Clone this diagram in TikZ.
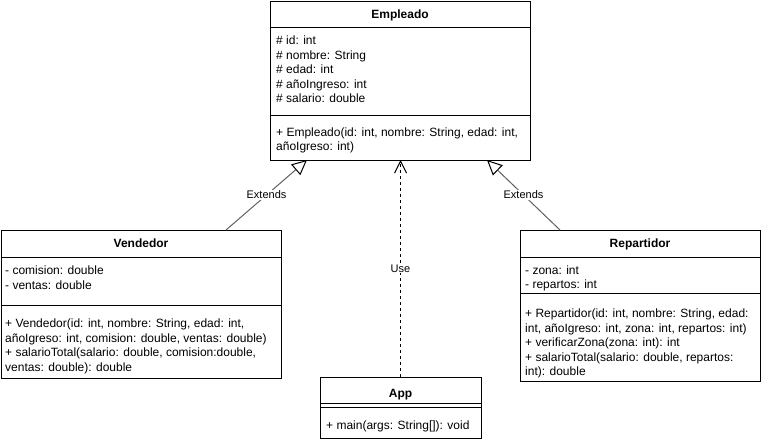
\documentclass[tikz,border=0pt]{standalone}
\usepackage{fontspec}
\setmainfont{Liberation Sans}
\usetikzlibrary{arrows.meta}
\begin{document}
\begin{tikzpicture}[x=1pt,y=-1pt,
  box/.style={draw=black, line width=1pt, fill=white, inner sep=0pt, outer sep=0pt},
  ttl/.style={font=\fontsize{12}{14}\selectfont\bfseries, inner sep=0pt, anchor=base},
  txt/.style={font=\fontsize{12}{14}\selectfont, inner sep=0pt, anchor=base west},
  sep/.style={line width=1pt},
  ext/.style={draw=black!62, line width=1pt, -{Triangle[open, length=15pt, width=14pt, color=black, fill=white, line width=1pt]}},
  usearrow/.style={draw=black, line width=1pt, dash pattern=on 3pt off 3pt, -{Straight Barb[length=12pt, width=12pt, line width=1pt]}},
  lbl/.style={font=\fontsize{11}{13}\selectfont, fill=white, inner sep=1pt}
]
\useasboundingbox (0,0) rectangle (762,442);

% ---------- Empleado ----------
\node[box, minimum width=260pt, minimum height=159pt] (emp) at (400,80.5) {};
\draw[sep] ([yshift=-26pt]emp.north west) -- ([yshift=-26pt]emp.north east);
\draw[sep] ([yshift=-114pt]emp.north west) -- ([yshift=-114pt]emp.north east);
\node[ttl] (empT) at (400,18.5) {Empleado};
\node[txt] (empA1) at (276,44.5) {\# id: int};
\node[txt] (empA2) at (276,59) {\# nombre: String};
\node[txt] (empA3) at (276,73.5) {\# edad: int};
\node[txt] (empA4) at (276,88) {\# añoIngreso: int};
\node[txt] (empA5) at (276,102.5) {\# salario: double};
\node[txt] (empM1) at (276,136) {+ Empleado(id: int, nombre: String, edad: int,};
\node[txt] (empM2) at (276,150.5) {añoIgreso: int)};

% ---------- Vendedor ----------
\node[box, minimum width=280pt, minimum height=148pt] (vend) at (141,304) {};
\draw[sep] ([yshift=-27pt]vend.north west) -- ([yshift=-27pt]vend.north east);
\draw[sep] ([yshift=-75pt]vend.north west) -- ([yshift=-75pt]vend.north east);
\node[ttl] (vendT) at (141,247.5) {Vendedor};
\node[txt] (vendA1) at (5,274.5) {- comision: double};
\node[txt] (vendA2) at (5,289) {- ventas: double};
\node[txt] (vendM1) at (5,327.5) {+ Vendedor(id: int, nombre: String, edad: int,};
\node[txt] (vendM2) at (5,342) {añoIgreso: int, comision: double, ventas: double)};
\node[txt] (vendM3) at (5,356.5) {+ salarioTotal(salario: double, comision:double,};
\node[txt] (vendM4) at (5,371) {ventas: double): double};

% ---------- Repartidor ----------
\node[box, minimum width=240pt, minimum height=151pt] (rep) at (640,305.5) {};
\draw[sep] ([yshift=-27pt]rep.north west) -- ([yshift=-27pt]rep.north east);
\draw[sep] ([yshift=-63pt]rep.north west) -- ([yshift=-63pt]rep.north east);
\node[ttl] (repT) at (640,247.5) {Repartidor};
\node[txt] (repA1) at (525,274.5) {- zona: int};
\node[txt] (repA2) at (525,288.5) {- repartos: int};
\node[txt] (repM1) at (525,317.5) {+ Repartidor(id: int, nombre: String, edad:};
\node[txt] (repM2) at (525,332) {int, añoIgreso: int, zona: int, repartos: int)};
\node[txt] (repM3) at (525,346.5) {+ verificarZona(zona: int): int};
\node[txt] (repM4) at (525,361) {+ salarioTotal(salario: double, repartos:};
\node[txt] (repM5) at (525,375) {int): double};

% ---------- App ----------
\node[box, minimum width=161pt, minimum height=61pt] (app) at (400.5,407.5) {};
\draw[sep] ([yshift=-26pt]app.north west) -- ([yshift=-26pt]app.north east);
\draw[sep] ([yshift=-30pt]app.north west) -- ([yshift=-30pt]app.north east);
\node[ttl] (appT) at (400.5,397.5) {App};
\node[txt] (appM1) at (326,429.5) {+ main(args: String[]): void};

% ---------- connectors ----------
\draw[ext] ([xshift=225pt]vend.north west) -- node[lbl] (extL) {Extends} ([xshift=37pt]emp.south west);
\draw[ext] ([xshift=40pt]rep.north west) -- node[lbl] (extR) {Extends} ([xshift=217pt]emp.south west);
\draw[usearrow] (app.north) -- node[lbl, pos=0.5] (useL) {Use} (app.north |- emp.south);
\end{tikzpicture}
\end{document}
